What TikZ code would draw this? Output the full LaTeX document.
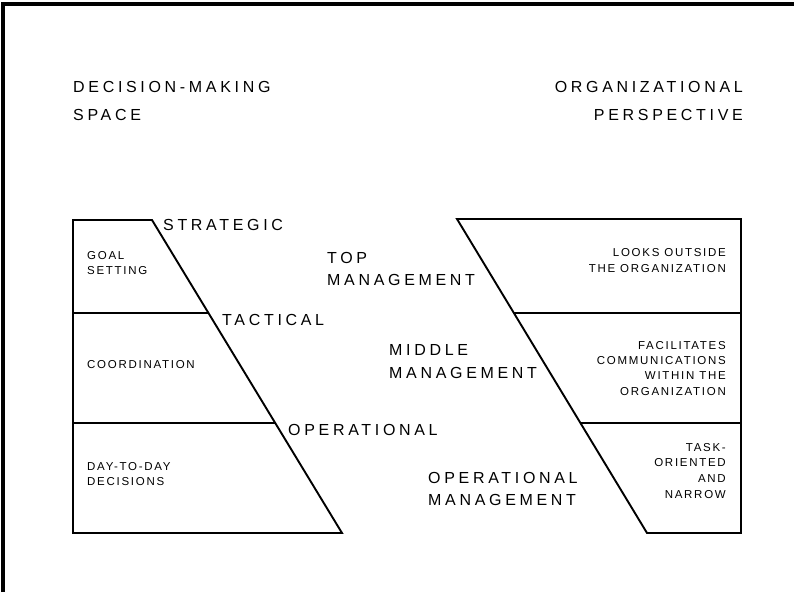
\documentclass[tikz,border=0pt]{standalone}
\usepackage{fontspec}
\setmainfont{Liberation Sans}
\newfontfamily\bigtype[LetterSpace=23]{Liberation Sans}
\newfontfamily\smalltype[LetterSpace=15]{Liberation Sans}
\begin{document}
\begin{tikzpicture}[x=1pt,y=-1pt,
  outline/.style={line width=1.9pt,line join=miter},
  frameline/.style={line width=3.2pt},
  bigtext/.style={inner sep=0pt,font=\bigtype\fontsize{16}{22}\selectfont},
  smalltext/.style={inner sep=0pt,font=\smalltype\fontsize{11.5}{15.5}\selectfont}]
\useasboundingbox (0,0) rectangle (794,592);

% page frame (left and top edges)
\coordinate (fb) at (3,592);
\coordinate (ft) at (3,4);
\coordinate (fr) at (794,4);
\draw[frameline] (fb) -- (ft) -- (fr);

% headings
\node[bigtext,anchor=north west,align=left,font=\bigtype\fontsize{16}{28}\selectfont] (dms) at (73,81) {DECISION-MAKING\\SPACE};
\node[bigtext,anchor=north east,align=right,font=\bigtype\fontsize{16}{28}\selectfont] (orgp) at (743,81) {ORGANIZATIONAL\\PERSPECTIVE};

% decision-making space trapezoid
\coordinate (ltl) at (73,220);
\coordinate (ltr) at (152,220);
\coordinate (lbr) at (342,533);
\coordinate (lbl) at (73,533);
\coordinate (lml) at (73,313);
\coordinate (lmr) at (209,313);
\coordinate (lnl) at (73,423);
\coordinate (lnr) at (276,423);
\draw[outline] (ltl) -- (ltr) -- (lbr) -- (lbl) -- cycle;
\draw[outline] (lml) -- (lmr);
\draw[outline] (lnl) -- (lnr);

% organizational perspective trapezoid
\coordinate (rtl) at (457,219);
\coordinate (rtr) at (741,219);
\coordinate (rbr) at (741,533);
\coordinate (rbl) at (647,533);
\coordinate (rml) at (514,313);
\coordinate (rmr) at (741,313);
\coordinate (rnl) at (581,423);
\coordinate (rnr) at (741,423);
\draw[outline] (rtl) -- (rtr) -- (rbr) -- (rbl) -- cycle;
\draw[outline] (rml) -- (rmr);
\draw[outline] (rnl) -- (rnr);

% level labels
\node[bigtext,anchor=north west] (strat) at (163,219) {STRATEGIC};
\node[bigtext,anchor=north west] (tact) at (222,314) {TACTICAL};
\node[bigtext,anchor=north west] (oper) at (288,424) {OPERATIONAL};

% decision types
\node[smalltext,anchor=north west,align=left] (goal) at (87,251) {GOAL\\SETTING};
\node[smalltext,anchor=north west,align=left] (coord) at (87,360) {COORDINATION};
\node[smalltext,anchor=north west,align=left] (daily) at (87,462) {DAY-TO-DAY\\DECISIONS};

% management levels
\node[bigtext,anchor=north west,align=left] (topm) at (327,252) {TOP\\MANAGEMENT};
\node[bigtext,anchor=north west,align=left,font=\bigtype\fontsize{16}{23}\selectfont] (midm) at (389,344) {MIDDLE\\MANAGEMENT};
\node[bigtext,anchor=north west,align=left] (opm) at (428,472) {OPERATIONAL\\MANAGEMENT};

% perspectives
\node[smalltext,anchor=north east,align=right,font=\smalltype\fontsize{11.5}{16}\selectfont] (looks) at (726,248) {LOOKS OUTSIDE\\THE ORGANIZATION};
\node[smalltext,anchor=north east,align=right,font=\smalltype\fontsize{11.5}{15.3}\selectfont] (facil) at (726,341) {FACILITATES\\COMMUNICATIONS\\WITHIN THE\\ORGANIZATION};
\node[smalltext,anchor=north east,align=right,font=\smalltype\fontsize{11.5}{15.6}\selectfont] (task) at (726,443) {TASK-\\ORIENTED\\AND\\NARROW};
\end{tikzpicture}
\end{document}
